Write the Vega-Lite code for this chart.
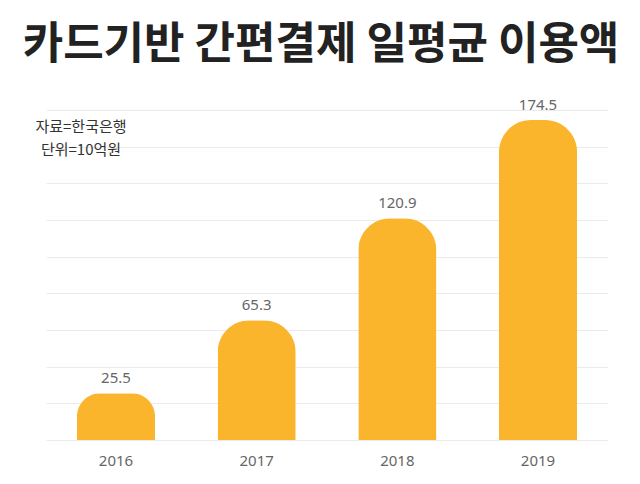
{
  "$schema": "https://vega.github.io/schema/vega-lite/v6.json",
  "autosize": {"type": "none"},
  "width": 562,
  "height": 330,
  "padding": {"left": 46, "top": 110, "right": 32, "bottom": 44},
  "background": "white",
  "config": {"font": "Noto Sans CJK KR", "view": {"stroke": null}},
  "title": {
    "text": "카드기반 간편결제 일평균 이용액",
    "fontSize": 44,
    "fontWeight": "bold",
    "color": "#222222",
    "anchor": "middle",
    "offset": 30,
    "dx": -6
  },
  "datasets": {
    "bars": [
      {"year": "2016", "value": 25.5},
      {"year": "2017", "value": 65.3},
      {"year": "2018", "value": 120.9},
      {"year": "2019", "value": 174.5}
    ],
    "notes": [
      {"year": "2016", "y": 170.5, "label": "자료=한국은행"},
      {"year": "2016", "y": 158, "label": "단위=10억원"}
    ]
  },
  "layer": [
    {
      "data": {"name": "bars"},
      "mark": {"type": "bar", "color": "#FBB52D", "cornerRadiusTopLeft": 32, "cornerRadiusTopRight": 32},
      "encoding": {
        "x": {
          "field": "year", "type": "nominal", "sort": null,
          "scale": {"paddingInner": 0.445, "paddingOuter": 0.22},
          "axis": {"title": null, "labelAngle": 0, "domain": false, "ticks": false, "labelPadding": 13, "labelFontSize": 15, "labelColor": "#666666", "labelFont": "Noto Sans"}
        },
        "y": {
          "field": "value", "type": "quantitative",
          "scale": {"domain": [0, 180], "nice": false},
          "axis": {"title": null, "labels": false, "ticks": false, "domain": false, "values": [0, 20, 40, 60, 80, 100, 120, 140, 160, 180], "gridColor": "#ebebeb", "gridWidth": 1}
        }
      }
    },
    {
      "data": {"name": "bars"},
      "mark": {"type": "text", "baseline": "bottom", "dy": -7, "fontSize": 15, "color": "#666666", "font": "Noto Sans"},
      "encoding": {
        "x": {"field": "year", "type": "nominal", "sort": null},
        "y": {"field": "value", "type": "quantitative", "axis": {"title": null, "labels": false, "ticks": false, "domain": false, "values": [0, 20, 40, 60, 80, 100, 120, 140, 160, 180], "gridColor": "#ebebeb", "gridWidth": 1}},
        "text": {"field": "value", "type": "quantitative", "format": ".1f"}
      }
    },
    {
      "data": {"name": "notes"},
      "mark": {"type": "text", "align": "center", "baseline": "middle", "dx": -35, "fontSize": 15, "color": "#333333"},
      "encoding": {
        "x": {"field": "year", "type": "nominal", "sort": null},
        "y": {"field": "y", "type": "quantitative", "axis": {"title": null, "labels": false, "ticks": false, "domain": false, "values": [0, 20, 40, 60, 80, 100, 120, 140, 160, 180], "gridColor": "#ebebeb", "gridWidth": 1}},
        "text": {"field": "label", "type": "nominal"}
      }
    }
  ]
}
